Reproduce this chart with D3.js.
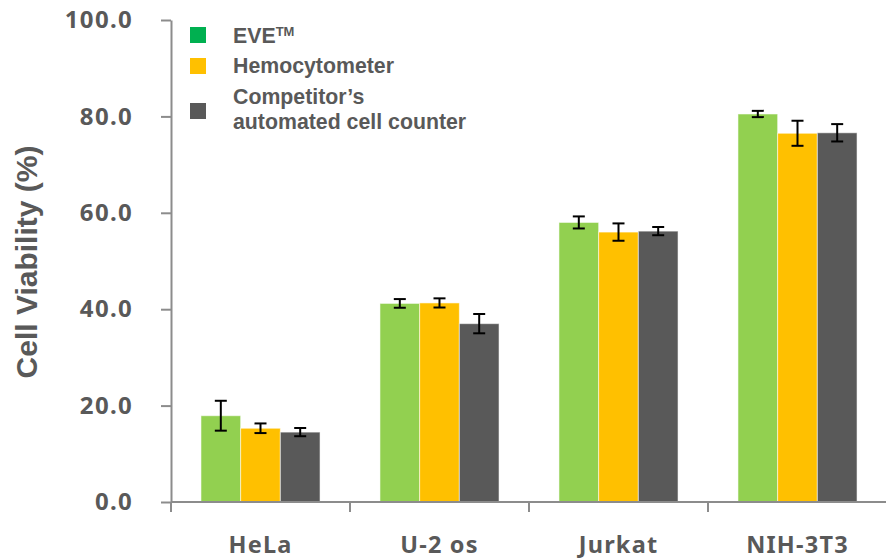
<!DOCTYPE html>
<html>
<head>
<meta charset="utf-8">
<script src="https://cdn.jsdelivr.net/npm/d3@7"></script>
<style>
  html, body { margin: 0; padding: 0; background: #fff; }
  svg { display: block; }
</style>
</head>
<body>
<svg id="chart" width="886" height="560"></svg>
<script>
// Cell lines on the x axis
const categories = ["HeLa", "U-2 os", "Jurkat", "NIH-3T3"];
// Counting methods
const seriesNames = ["EVE", "Hemocytometer", "Competitor's automated cell counter"];
// Mean viability (%) per method, one value per cell line
const eveValues = [17.9, 41.2, 58.0, 80.5];
const hemoValues = [15.3, 41.3, 56.0, 76.5];
const competitorValues = [14.5, 37.0, 56.2, 76.6];
// Standard deviations
const eveErrors = [3.1, 0.9, 1.25, 0.65];
const hemoErrors = [1.0, 0.95, 1.8, 2.6];
const competitorErrors = [0.85, 2.0, 0.85, 1.8];
// Y axis ticks
const yTicks = [0, 20, 40, 60, 80, 100];

const barColors = ["#92D050", "#FFC000", "#595959"];
const legendColors = ["#00B050", "#FFC000", "#595959"];
const textColor = "#595959";
const axisColor = "#8C8C8C";

const seriesValues = [eveValues, hemoValues, competitorValues];
const seriesErrors = [eveErrors, hemoErrors, competitorErrors];

const svg = d3.select("#chart");

const x0 = d3.scaleBand().domain(categories).range([171, 887]).padding(0);
const x1 = d3.scaleBand().domain(d3.range(seriesNames.length))
  .range([0, x0.bandwidth()]).paddingInner(0).paddingOuter(0.755);
const y = d3.scaleLinear().domain([0, 100]).range([502, 20]);

// Bars
const groups = svg.append("g").selectAll("g")
  .data(categories).join("g")
  .attr("transform", d => `translate(${x0(d)},0)`);

groups.selectAll("rect")
  .data((c, ci) => seriesValues.map((vals, si) => ({ si, v: vals[ci], e: seriesErrors[si][ci] })))
  .join("rect")
  .attr("x", d => x1(d.si))
  .attr("y", d => y(d.v))
  .attr("width", x1.bandwidth())
  .attr("height", d => y(0) - y(d.v))
  .attr("fill", d => barColors[d.si])
  .attr("stroke", "rgba(255,255,255,0.55)")
  .attr("stroke-width", 1);

// Error bars
const errG = groups.selectAll("g.err")
  .data((c, ci) => seriesValues.map((vals, si) => ({ si, v: vals[ci], e: seriesErrors[si][ci] })))
  .join("g").attr("class", "err")
  .attr("stroke", "#000").attr("stroke-width", 2);
const capHalf = 6;
errG.append("line")
  .attr("x1", d => x1(d.si) + x1.bandwidth() / 2)
  .attr("x2", d => x1(d.si) + x1.bandwidth() / 2)
  .attr("y1", d => y(d.v + d.e))
  .attr("y2", d => y(d.v - d.e));
errG.append("line")
  .attr("x1", d => x1(d.si) + x1.bandwidth() / 2 - capHalf)
  .attr("x2", d => x1(d.si) + x1.bandwidth() / 2 + capHalf)
  .attr("y1", d => y(d.v + d.e))
  .attr("y2", d => y(d.v + d.e));
errG.append("line")
  .attr("x1", d => x1(d.si) + x1.bandwidth() / 2 - capHalf)
  .attr("x2", d => x1(d.si) + x1.bandwidth() / 2 + capHalf)
  .attr("y1", d => y(d.v - d.e))
  .attr("y2", d => y(d.v - d.e));

// Y axis
const yAxis = svg.append("g")
  .attr("transform", `translate(${x0.range()[0]},0)`)
  .call(d3.axisLeft(y).tickValues(yTicks).tickFormat(d3.format(".1f"))
    .tickSize(10).tickSizeOuter(0).tickPadding(28));
yAxis.select(".domain").attr("stroke", axisColor).attr("stroke-width", 2);
yAxis.selectAll(".tick line").attr("stroke", axisColor).attr("stroke-width", 2);
yAxis.selectAll(".tick text")
  .attr("fill", textColor)
  .attr("font-family", "'Noto Sans', sans-serif")
  .attr("font-weight", "bold")
  .attr("font-size", 24)
  .attr("letter-spacing", 1.3);

// X axis baseline with category boundary ticks
const xAxisG = svg.append("g");
xAxisG.append("line")
  .attr("x1", x0.range()[0]).attr("x2", x0.range()[1])
  .attr("y1", y(0)).attr("y2", y(0))
  .attr("stroke", axisColor).attr("stroke-width", 2);
const boundaries = categories.map(c => x0(c)).concat([x0.range()[1]]);
xAxisG.selectAll("line.bound")
  .data(boundaries).join("line").attr("class", "bound")
  .attr("x1", d => d).attr("x2", d => d)
  .attr("y1", y(0)).attr("y2", y(0) + 10)
  .attr("stroke", axisColor).attr("stroke-width", 2);

// Category labels, baseline placed explicitly
const xAxis = svg.append("g")
  .attr("transform", `translate(0,${y(0)})`)
  .call(d3.axisBottom(x0).tickSize(0).tickPadding(0));
xAxis.select(".domain").remove();
xAxis.selectAll(".tick text")
  .attr("y", 51)
  .attr("dy", null)
  .attr("fill", textColor)
  .attr("font-family", "'Noto Sans', sans-serif")
  .attr("font-weight", "bold")
  .attr("font-size", 23.5)
  .attr("letter-spacing", 1.2);

// Y axis title
svg.append("text")
  .attr("transform", "translate(37,262) rotate(-90)")
  .attr("text-anchor", "middle")
  .attr("fill", textColor)
  .attr("font-family", "'Liberation Sans', Arial, sans-serif")
  .attr("font-weight", "bold")
  .attr("font-size", 30)
  .text("Cell Viability (%)");

// Legend
const legend = svg.append("g")
  .attr("font-family", "'Liberation Sans', Arial, sans-serif")
  .attr("font-weight", "bold")
  .attr("fill", textColor);
const swatchY = [27, 58, 103];
legend.selectAll("rect")
  .data(legendColors).join("rect")
  .attr("x", 190).attr("y", (d, i) => swatchY[i])
  .attr("width", 16).attr("height", 16)
  .attr("fill", d => d);

const fs = 21.3;
const eveText = legend.append("text").attr("x", 233).attr("y", 43).attr("font-size", fs);
eveText.append("tspan").text("EVE");
eveText.append("tspan").attr("font-size", 13).attr("dy", -7).text("TM");
legend.append("text").attr("x", 233).attr("y", 73).attr("font-size", fs).text("Hemocytometer");
legend.append("text").attr("x", 233).attr("y", 104).attr("font-size", fs).text("Competitor\u2019s");
legend.append("text").attr("x", 233).attr("y", 129).attr("font-size", fs).text("automated cell counter");
</script>
</body>
</html>
